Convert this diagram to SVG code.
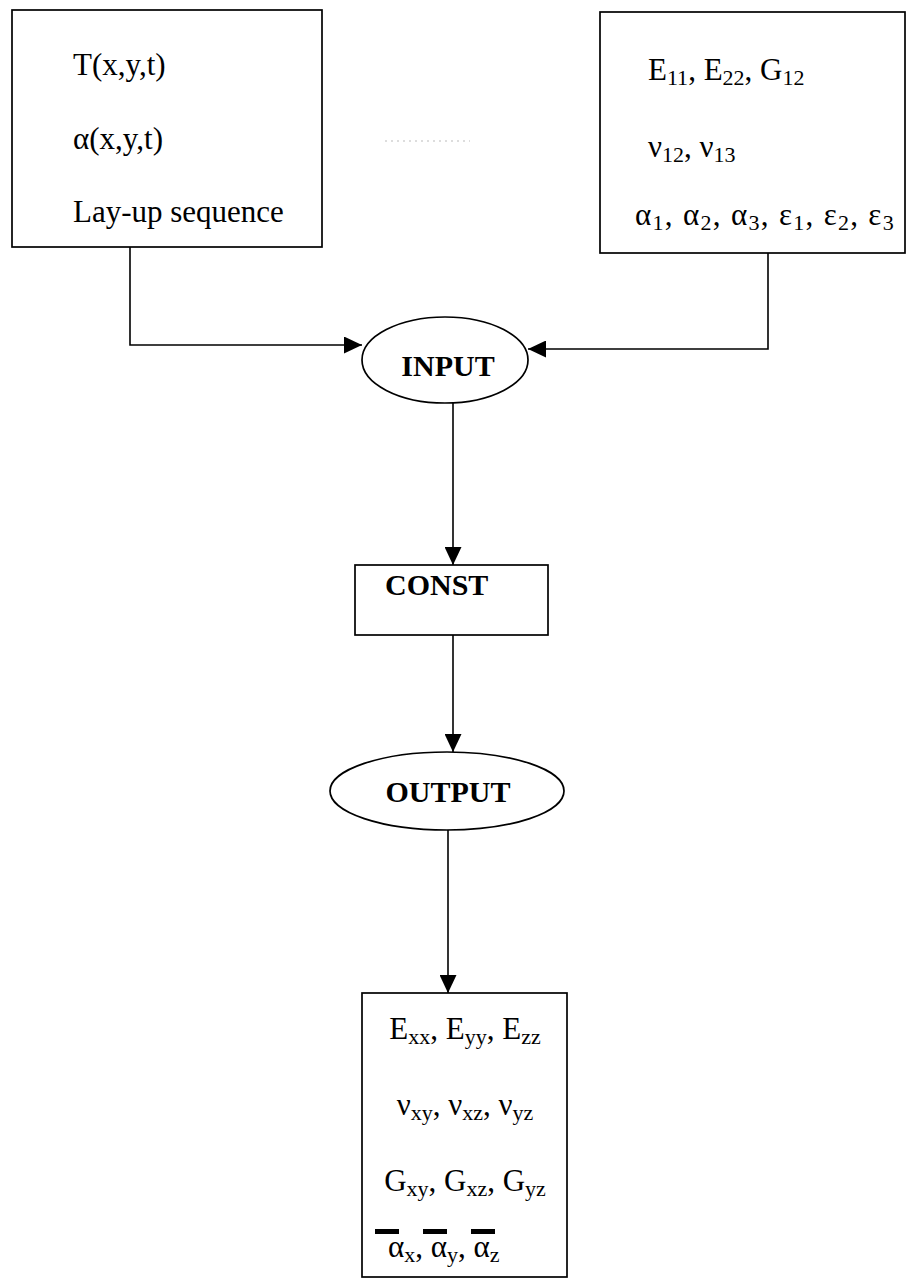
<svg xmlns="http://www.w3.org/2000/svg" width="907" height="1279" viewBox="0 0 907 1279">
  <defs>
    <style>
      .box { fill: #fff; stroke: #000; stroke-width: 1.7; }
      .line { fill: none; stroke: #000; stroke-width: 1.6; }
      .t { font-family: "Liberation Serif", "Times New Roman", serif; font-size: 31px; fill: #000; }
      .b { font-family: "Liberation Serif", "Times New Roman", serif; font-size: 30px; font-weight: bold; fill: #000; }
      .sub { font-size: 22px; }
      .bar { fill: #000; }
    </style>
    <marker id="arrow" viewBox="0 0 10 10" refX="10" refY="5" markerWidth="18" markerHeight="17" markerUnits="userSpaceOnUse" orient="auto" preserveAspectRatio="none">
      <path d="M0,0 L10,5 L0,10 Z" fill="#000"/>
    </marker>
  </defs>

  <rect width="907" height="1279" fill="#fff"/>

  <!-- connectors -->
  <g id="connectors">
    <path class="line" d="M130,247 V345 H362" marker-end="url(#arrow)"/>
    <path class="line" d="M768,253 V349 H528" marker-end="url(#arrow)"/>
    <path class="line" d="M453,403 V565" marker-end="url(#arrow)"/>
    <path class="line" d="M453,635 V752" marker-end="url(#arrow)"/>
    <path class="line" d="M448,830 V993" marker-end="url(#arrow)"/>
  </g>

  <!-- faint dotted trace -->
  <line x1="385" y1="141" x2="470" y2="141" stroke="#bbb" stroke-width="1" stroke-dasharray="2 4"/>

  <!-- thermal input box -->
  <g id="thermal">
    <rect class="box" x="12" y="10" width="310" height="237"/>
    <text class="t" x="73" y="75">T(x,y,t)</text>
    <text class="t" x="73" y="149">α(x,y,t)</text>
    <text class="t" x="73" y="222">Lay-up sequence</text>
  </g>

  <!-- ply material properties box -->
  <g id="material">
    <rect class="box" x="600" y="12" width="305" height="241"/>
    <text class="t" x="648" y="80">E<tspan class="sub" dy="5">11</tspan><tspan dy="-5">, E</tspan><tspan class="sub" dy="5">22</tspan><tspan dy="-5">, G</tspan><tspan class="sub" dy="5">12</tspan></text>
    <text class="t" x="648" y="157">ν<tspan class="sub" dy="5">12</tspan><tspan dy="-5">, ν</tspan><tspan class="sub" dy="5">13</tspan></text>
    <text class="t" x="635" y="225" letter-spacing="1.3">α<tspan class="sub" dy="5">1</tspan><tspan dy="-5">, α</tspan><tspan class="sub" dy="5">2</tspan><tspan dy="-5">, α</tspan><tspan class="sub" dy="5">3</tspan><tspan dy="-5">, ε</tspan><tspan class="sub" dy="5">1</tspan><tspan dy="-5">, ε</tspan><tspan class="sub" dy="5">2</tspan><tspan dy="-5">, ε</tspan><tspan class="sub" dy="5">3</tspan></text>
  </g>

  <!-- INPUT -->
  <g id="input">
    <ellipse class="box" cx="445" cy="360" rx="83" ry="43"/>
    <text class="b" x="448" y="376" text-anchor="middle">INPUT</text>
  </g>

  <!-- CONST -->
  <g id="const">
    <rect class="box" x="355" y="565" width="193" height="70"/>
    <text class="b" x="385" y="595" font-size="33">CONST</text>
  </g>

  <!-- OUTPUT -->
  <g id="output">
    <ellipse class="box" cx="447" cy="791" rx="117" ry="39"/>
    <text class="b" x="448" y="802" text-anchor="middle" font-size="28">OUTPUT</text>
  </g>

  <!-- laminate properties box -->
  <g id="laminate">
    <rect class="box" x="362" y="993" width="205" height="284"/>
    <text class="t" x="465" y="1039" text-anchor="middle" font-size="30">E<tspan class="sub" dy="5" font-size="21">xx</tspan><tspan dy="-5">, E</tspan><tspan class="sub" dy="5" font-size="21">yy</tspan><tspan dy="-5">, E</tspan><tspan class="sub" dy="5" font-size="21">zz</tspan></text>
    <text class="t" x="465" y="1115" text-anchor="middle" font-size="30">ν<tspan class="sub" dy="5" font-size="21">xy</tspan><tspan dy="-5">, ν</tspan><tspan class="sub" dy="5" font-size="21">xz</tspan><tspan dy="-5">, ν</tspan><tspan class="sub" dy="5" font-size="21">yz</tspan></text>
    <text class="t" x="465" y="1191" text-anchor="middle" font-size="30">G<tspan class="sub" dy="5" font-size="21">xy</tspan><tspan dy="-5">, G</tspan><tspan class="sub" dy="5" font-size="21">xz</tspan><tspan dy="-5">, G</tspan><tspan class="sub" dy="5" font-size="21">yz</tspan></text>
    <rect class="bar" x="375" y="1229" width="24" height="5"/>
    <rect class="bar" x="423" y="1229" width="24" height="5"/>
    <rect class="bar" x="471" y="1229" width="24" height="5"/>
    <text class="t" x="388" y="1257">α<tspan class="sub" dy="5">x</tspan><tspan dy="-5">, α</tspan><tspan class="sub" dy="5">y</tspan><tspan dy="-5">, α</tspan><tspan class="sub" dy="5">z</tspan></text>
  </g>
</svg>
